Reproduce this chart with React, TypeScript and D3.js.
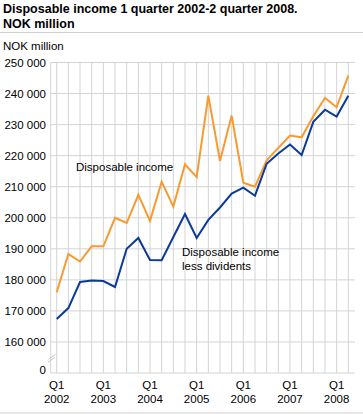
import React from "react";
import * as d3 from "d3";

const quarters: string[] = [
  "2002Q1","2002Q2","2002Q3","2002Q4",
  "2003Q1","2003Q2","2003Q3","2003Q4",
  "2004Q1","2004Q2","2004Q3","2004Q4",
  "2005Q1","2005Q2","2005Q3","2005Q4",
  "2006Q1","2006Q2","2006Q3","2006Q4",
  "2007Q1","2007Q2","2007Q3","2007Q4",
  "2008Q1","2008Q2",
];

const disposableIncome: number[] = [
  176000, 188300, 185900, 190800,
  190800, 200000, 198300, 207400,
  199000, 211600, 203600, 217200,
  213100, 239300, 218300, 232900,
  211300, 210000, 218500, 222500,
  226500, 225900, 232700, 238600,
  235600, 245800,
];

const lessDividends: number[] = [
  167400, 170900, 179300, 179800,
  179600, 177700, 190000, 193500,
  186400, 186300, 193800, 201200,
  193500, 199300, 203300, 207800,
  209700, 207100, 217400, 220700,
  223600, 220200, 230900, 234800,
  232600, 239300,
];

const yTicks: number[] = [160000, 170000, 180000, 190000, 200000, 210000, 220000, 230000, 240000, 250000];
const yTickLabels: string[] = ["160 000","170 000","180 000","190 000","200 000","210 000","220 000","230 000","240 000","250 000"];
const yBaseValue = 150000;
const yBaseLabel = "0";
const xLabelYears: string[] = ["2002","2003","2004","2005","2006","2007","2008"];

const FONT = "'Liberation Sans', Arial, sans-serif";
const ORANGE = "#f89a30";
const BLUE = "#0a3a9a";
const GRID = "#d4d4d4";

export default function App() {
  const W = 363, H = 414;
  const plotLeft = 50.7, plotRight = 355;
  const x = d3.scaleLinear().domain([0, quarters.length - 1]).range([56.7, 348.3]);
  const y = d3.scaleLinear().domain([yBaseValue, 250000]).range([373, 62.5]);

  const line = d3.line<number>().x((_, i) => x(i)).y((d) => y(d));

  return (
    <div style={{ position: "absolute", left: 0, top: 0 }}>
      <svg width={W} height={H} style={{ display: "block", background: "#fff" }} fontFamily={FONT}>
        <text x={3} y={13} fontSize={12.5} fontWeight="bold" fill="#000">
          Disposable income 1 quarter 2002-2 quarter 2008.
        </text>
        <text x={3} y={28} fontSize={12.5} fontWeight="bold" fill="#000">NOK million</text>
        <line x1={0} x2={363} y1={32.5} y2={32.5} stroke="#cfcfcf" strokeWidth={1} />

        <text x={3} y={50} fontSize={11.5} fill="#000">NOK million</text>

        {/* horizontal gridlines */}
        {yTicks.map((t) => (
          <line key={"h" + t} x1={plotLeft} x2={plotRight} y1={y(t)} y2={y(t)} stroke={GRID} strokeWidth={1} />
        ))}
        <line x1={plotLeft} x2={plotRight} y1={y(yBaseValue)} y2={y(yBaseValue)} stroke={GRID} strokeWidth={1} />
        {/* vertical gridlines */}
        {quarters.map((q, i) => (
          <line key={"v" + q} x1={x(i)} x2={x(i)} y1={y(250000)} y2={y(yBaseValue)} stroke={GRID} strokeWidth={1} />
        ))}
        <line x1={plotLeft} x2={plotLeft} y1={y(250000)} y2={y(yBaseValue)} stroke={GRID} strokeWidth={1} />

        {/* axis break */}
        <line x1={48.5} y1={359} x2={55.5} y2={354.5} stroke="#c8c8c8" strokeWidth={1} />
        <line x1={48} y1={362} x2={55} y2={357.5} stroke="#c8c8c8" strokeWidth={1} />

        {/* y labels */}
        {yTicks.map((t, i) => (
          <text key={"yl" + t} x={46} y={y(t)} dy="0.35em" textAnchor="end" fontSize={11.5} fill="#000">
            {yTickLabels[i]}
          </text>
        ))}
        <text x={46} y={y(yBaseValue) - 3} dy="0.35em" textAnchor="end" fontSize={11.5} fill="#000">{yBaseLabel}</text>

        {/* x labels */}
        {xLabelYears.map((yr, k) => (
          <g key={"xl" + yr}>
            <text x={x(k * 4)} y={389} textAnchor="middle" fontSize={11.5} fill="#000">Q1</text>
            <text x={x(k * 4)} y={403} textAnchor="middle" fontSize={11.5} fill="#000">{yr}</text>
          </g>
        ))}

        <line x1={0} x2={363} y1={413} y2={413} stroke="#cfcfcf" strokeWidth={1} />

        {/* series */}
        <path d={line(disposableIncome) || ""} fill="none" stroke={ORANGE} strokeWidth={2} strokeLinejoin="miter" />
        <path d={line(lessDividends) || ""} fill="none" stroke={BLUE} strokeWidth={2} strokeLinejoin="miter" />

        {/* annotations */}
        <text x={76} y={170.5} fontSize={11.5} fill="#000">Disposable income</text>
        <text x={182} y={256} fontSize={11.5} fill="#000">Disposable income</text>
        <text x={182} y={269.5} fontSize={11.5} fill="#000">less dividents</text>
      </svg>
    </div>
  );
}
